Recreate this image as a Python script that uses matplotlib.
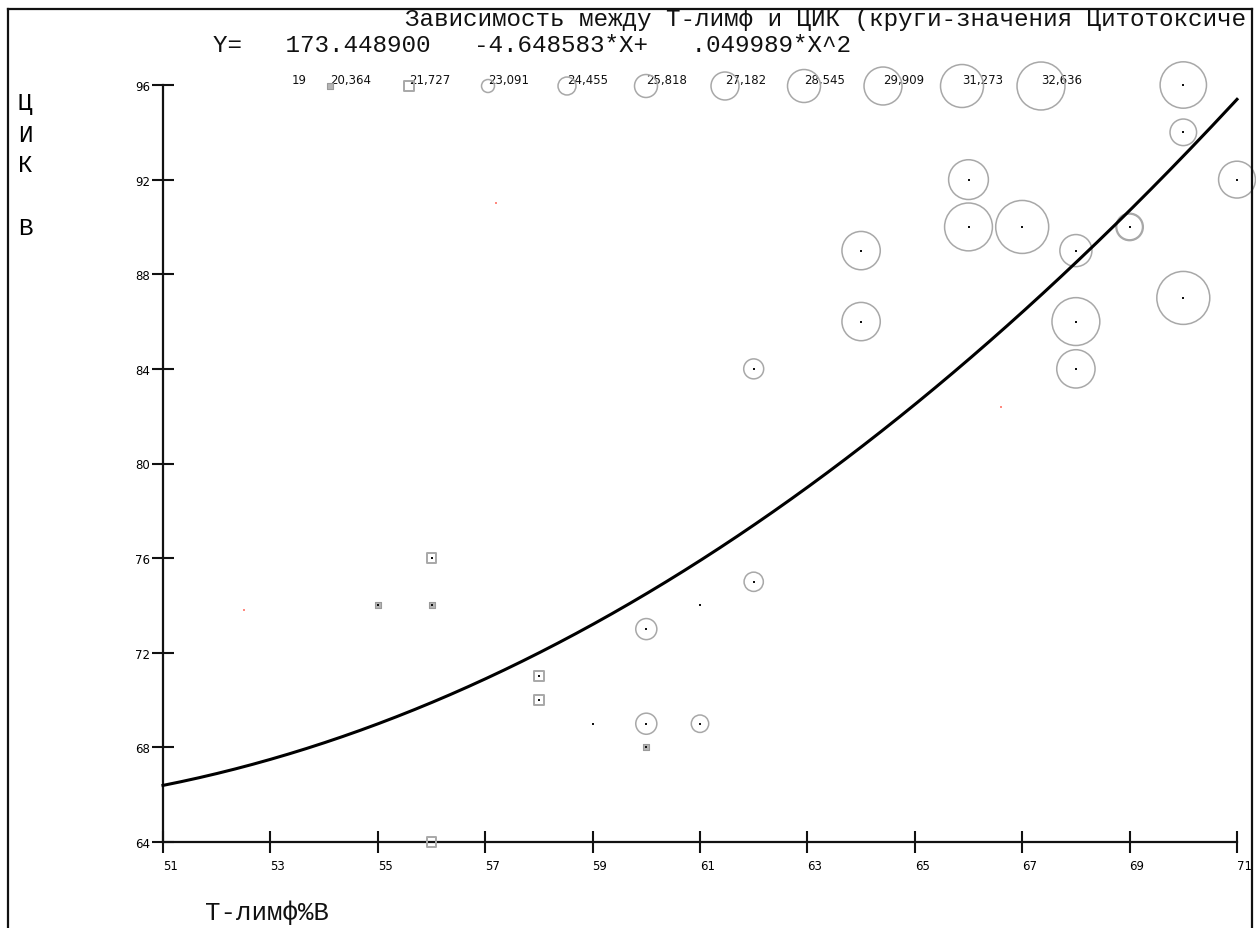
import matplotlib

matplotlib.use("Agg")
import matplotlib.pyplot as plt
import numpy as np
from matplotlib.lines import Line2D

# T-лимф %, ЦИК, Цитотоксические (размер круга)
t_limf = [70, 70, 71, 66, 66, 67, 69, 69, 68, 64, 64, 68, 70, 68,
          62, 62, 60, 60, 61, 61, 59, 60, 56, 58, 58, 55, 56, 56]
cik = [96, 94, 92, 92, 90, 90, 90, 90, 89, 89, 86, 86, 87, 84,
       84, 75, 73, 69, 69, 74, 69, 68, 76, 71, 70, 74, 74, 64]
cyto = [32.2, 26.8, 29.6, 30.4, 32.6, 34.0, 26.6, 27.0, 28.3, 30.0, 30.0, 32.6, 34.0, 30.0,
        25.0, 24.8, 25.3, 25.3, 24.3, 19.0, 19.0, 20.4, 21.7, 21.7, 21.7, 20.4, 20.4, 21.2]

# stray red pixels in the original
red_x = [52.5, 57.2, 66.6]
red_y = [73.8, 91.0, 82.4]

legend_values = [19, 20.364, 21.727, 23.091, 24.455, 25.818, 27.182,
                 28.545, 29.909, 31.273, 32.636]
legend_labels = ["19", "20,364", "21,727", "23,091", "24,455", "25,818",
                 "27,182", "28,545", "29,909", "31,273", "32,636"]

# regression coefficients printed in the title
b0, b1, b2 = 173.448900, -4.648583, 0.049989

x_ticks = list(range(51, 72, 2))
y_ticks = list(range(64, 97, 4))

W, H = 1256, 929
GREY = "#a8a8a8"
MONO = "Liberation Mono"
SANS = "DejaVu Sans"


def radius_px(v):
    return 1.833 * (v - 19.55)


def draw_markers(ax, xs, ys, vs, legend=False, **kw):
    xs, ys, vs = np.asarray(xs), np.asarray(ys), np.asarray(vs)
    circ = vs >= 23
    osq = (vs >= 21) & (vs < 23)
    fsq = (vs >= 19.7) & (vs < 21)
    if circ.any():
        s = (2 * radius_px(vs[circ]) * 0.72) ** 2
        ax.scatter(xs[circ], ys[circ], s=s, marker="o", facecolors="none",
                   edgecolors=GREY, linewidths=1.1, zorder=3, **kw)
    if osq.any():
        ax.scatter(xs[osq], ys[osq], s=50, marker="s", facecolors="none",
                   edgecolors=GREY, linewidths=1.4, zorder=3, **kw)
    if fsq.any():
        ax.scatter(xs[fsq], ys[fsq], s=24, marker="s", facecolors="#b5b5b5",
                   edgecolors="#9a9a9a", linewidths=0.8, zorder=3, **kw)
    if not legend:
        ax.scatter(xs, ys, s=2.5, marker="s", color="#111111", linewidths=0,
                   zorder=4, **kw)


def main():
    fig = plt.figure(figsize=(W / 100, H / 100), dpi=100)
    fig.patch.set_facecolor("white")

    ax = fig.add_axes([163 / W, 1 - 843 / H, (1237 - 163) / W, (843 - 86) / H])
    ax.set_facecolor("none")
    ax.set_xlim(51, 71)
    ax.set_ylim(64, 96)
    for side in ("top", "right"):
        ax.spines[side].set_visible(False)
    for side in ("left", "bottom"):
        ax.spines[side].set_linewidth(1.6)
        ax.spines[side].set_color("#111111")
    ax.set_xticks(x_ticks)
    ax.set_yticks(y_ticks)
    ax.tick_params(direction="inout", length=16, width=1.5, color="#111111",
                   labelsize=8.5, labelfontfamily=SANS)
    ax.tick_params(axis="x", pad=4)
    ax.tick_params(axis="y", pad=1.5)
    for lbl in ax.get_xticklabels():
        lbl.set_horizontalalignment("left")

    draw_markers(ax, t_limf, cik, cyto, clip_on=False)
    ax.scatter(red_x, red_y, s=3, marker="s", color="#ff8a80", linewidths=0,
               zorder=2, clip_on=False)

    xx = np.linspace(51, 71, 300)
    ax.plot(xx, b0 + b1 * xx + b2 * xx ** 2, color="#000000", lw=2.2,
            zorder=5, clip_on=False)

    # overlay in pixel coordinates for frame, titles and size legend
    ov = fig.add_axes([0, 0, 1, 1])
    ov.set_xlim(0, W)
    ov.set_ylim(H, 0)
    ov.axis("off")
    ov.patch.set_alpha(0)

    for xy in (((8, 8), (10, H)), ((8, 1252), (10, 10)), ((1252, 1252), (10, H))):
        ov.add_line(Line2D(*xy, color="#111111", lw=1.6))

    # the original title runs past the frame and is cut at "Цитотоксиче"
    ov.text(405, 19, "Зависимость между Т-лимф и ЦИК (круги-значения Цитотоксиче",
            family=MONO, fontsize=17.5, va="center", ha="left", color="#111111")
    ov.text(213, 45, "Y=   173.448900   -4.648583*X+   .049989*X^2",
            family=MONO, fontsize=17.5, va="center", ha="left", color="#111111")
    ov.text(25, 103, "Ц", family=MONO, fontsize=17.5, va="center", ha="center")
    ov.text(25, 135, "И", family=MONO, fontsize=17.5, va="center", ha="center")
    ov.text(25, 165, "К", family=MONO, fontsize=17.5, va="center", ha="center")
    ov.text(25, 228, "В", family=MONO, fontsize=17.5, va="center", ha="center")
    ov.text(205, 913, "T-лимф%B", family=MONO, fontsize=18.5, va="center",
            ha="left", color="#111111")

    lx = [292] + [330 + 79 * i for i in range(len(legend_values) - 1)]
    for x, lab in zip(lx, legend_labels):
        ov.text(x, 80, lab, family=SANS, fontsize=8.5, va="center", ha="left",
                color="#111111")
    draw_markers(ov, lx, [87] * len(lx), legend_values, legend=True)

    fig.savefig("out.png", dpi=100, facecolor="white")


if __name__ == "__main__":
    main()
